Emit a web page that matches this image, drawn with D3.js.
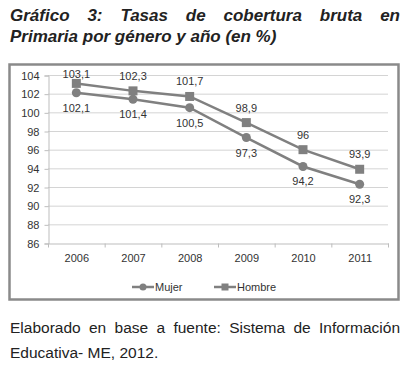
<meta charset="utf-8">
<svg width="413" height="367"></svg>
<script src="https://d3js.org/d3.v7.min.js"></script>
<script>
var years = ["2006", "2007", "2008", "2009", "2010", "2011"];
var mujer = [102.1, 101.4, 100.5, 97.3, 94.2, 92.3];
var hombre = [103.1, 102.3, 101.7, 98.9, 96, 93.9];
var yTicks = [86, 88, 90, 92, 94, 96, 98, 100, 102, 104];

var svg = d3.select("svg"),
    font = "'Liberation Sans', Arial, sans-serif",
    grey = "#808080";

d3.select("body").style("margin", "0");

// justify words across a line
function justify(g, words, x0, x1, y, style) {
  var t = g.selectAll(null).data(words).enter().append("text")
    .attr("y", y).text(function(d) { return d; });
  style(t);
  var w = [];
  t.each(function() { w.push(this.getComputedTextLength()); });
  var gap = (x1 - x0 - d3.sum(w)) / (words.length - 1), x = x0;
  t.attr("x", function(d, i) { var xx = x; x += w[i] + gap; return xx; });
}

function titleStyle(t) {
  t.style("font-family", font).style("font-size", "17px")
   .style("font-weight", "bold").style("font-style", "italic").attr("fill", "#222");
}
justify(svg, "Gráfico 3: Tasas de cobertura bruta en".split(" "), 10, 400, 21, titleStyle);
titleStyle(svg.append("text").attr("x", 10).attr("y", 42).text("Primaria por género y año (en %)"));

function footStyle(t) {
  t.style("font-family", font).style("font-size", "15.5px").attr("fill", "#222");
}
justify(svg, "Elaborado en base a fuente: Sistema de Información".split(" "), 10, 400, 333, footStyle);
footStyle(svg.append("text").attr("x", 10).attr("y", 358).text("Educativa- ME, 2012."));

// frame
svg.append("rect").attr("x", 9.5).attr("y", 64.5).attr("width", 389).attr("height", 235)
  .attr("fill", "#fff").attr("stroke", "#8a8a8a").attr("stroke-width", 2.5);

var x = d3.scaleBand().domain(years).range([48, 388]);
var y = d3.scaleLinear().domain([86, 104]).range([243, 75]);

// grid
svg.append("g").selectAll("line").data(yTicks.slice(1)).enter().append("line")
  .attr("x1", 48).attr("x2", 388)
  .attr("y1", function(d) { return y(d) + 0.5; }).attr("y2", function(d) { return y(d) + 0.5; })
  .attr("stroke", "#d4d4d4");

var yAxis = svg.append("g").attr("transform", "translate(48.5,0.5)")
  .call(d3.axisLeft(y).tickValues(yTicks).tickSize(4).tickPadding(5));
var xAxis = svg.append("g").attr("transform", "translate(0.5," + (y(86) + 0.5) + ")")
  .call(d3.axisBottom(x).tickSize(0).tickPadding(11));
xAxis.selectAll(".tick line").remove();
xAxis.selectAll(null).data(x.domain().concat(["end"])).enter().append("line")
  .attr("x1", function(d) { return d == "end" ? 388 : x(d); })
  .attr("x2", function(d) { return d == "end" ? 388 : x(d); })
  .attr("y1", 0).attr("y2", 4).attr("stroke", "#bdbdbd");
[yAxis, xAxis].forEach(function(a) {
  a.select(".domain").attr("stroke", "#bdbdbd");
  a.selectAll(".tick line").attr("stroke", "#bdbdbd");
  a.selectAll("text").style("font-family", font).style("font-size", "11px").attr("fill", "#333");
});

var cx = function(d, i) { return x(years[i]) + x.bandwidth() / 2; };
var line = d3.line().x(cx).y(function(d) { return y(d); });

function fmt(v) { return String(v).replace(".", ","); }

// lines
[mujer, hombre].forEach(function(s) {
  svg.append("path").datum(s).attr("d", line).attr("fill", "none")
    .attr("stroke", grey).attr("stroke-width", 2.5);
});

svg.append("g").selectAll("circle").data(mujer).enter().append("circle")
  .attr("cx", cx).attr("cy", function(d) { return y(d); }).attr("r", 4.5).attr("fill", grey);
svg.append("g").selectAll("rect").data(hombre).enter().append("rect")
  .attr("x", function(d, i) { return cx(d, i) - 4.5; }).attr("y", function(d) { return y(d) - 4.5; })
  .attr("width", 9).attr("height", 9).attr("fill", grey);

// data labels
function labelStyle(t) {
  t.style("font-family", font).style("font-size", "11px").attr("fill", "#333").attr("text-anchor", "middle");
}
labelStyle(svg.append("g").selectAll("text").data(hombre).enter().append("text")
  .attr("x", cx).attr("y", function(d) { return Math.max(y(d) - 11, 78); }).text(fmt));
labelStyle(svg.append("g").selectAll("text").data(mujer).enter().append("text")
  .attr("x", cx).attr("y", function(d) { return y(d) + 19; }).text(fmt));

// legend
var legend = [{ name: "Mujer", x: 132 }, { name: "Hombre", x: 214 }];
var lg = svg.append("g").selectAll("g").data(legend).enter().append("g")
  .attr("transform", function(d) { return "translate(" + d.x + ",287)"; });
lg.append("line").attr("x1", 0).attr("x2", 22).attr("stroke", grey).attr("stroke-width", 2.5);
lg.filter(function(d) { return d.name == "Mujer"; }).append("circle").attr("cx", 11).attr("r", 3.5).attr("fill", grey);
lg.filter(function(d) { return d.name == "Hombre"; }).append("rect").attr("x", 7.5).attr("y", -3.5)
  .attr("width", 7).attr("height", 7).attr("fill", grey);
lg.append("text").attr("x", 23).attr("y", 4).text(function(d) { return d.name; })
  .style("font-family", font).style("font-size", "11px").attr("fill", "#333");
</script>
